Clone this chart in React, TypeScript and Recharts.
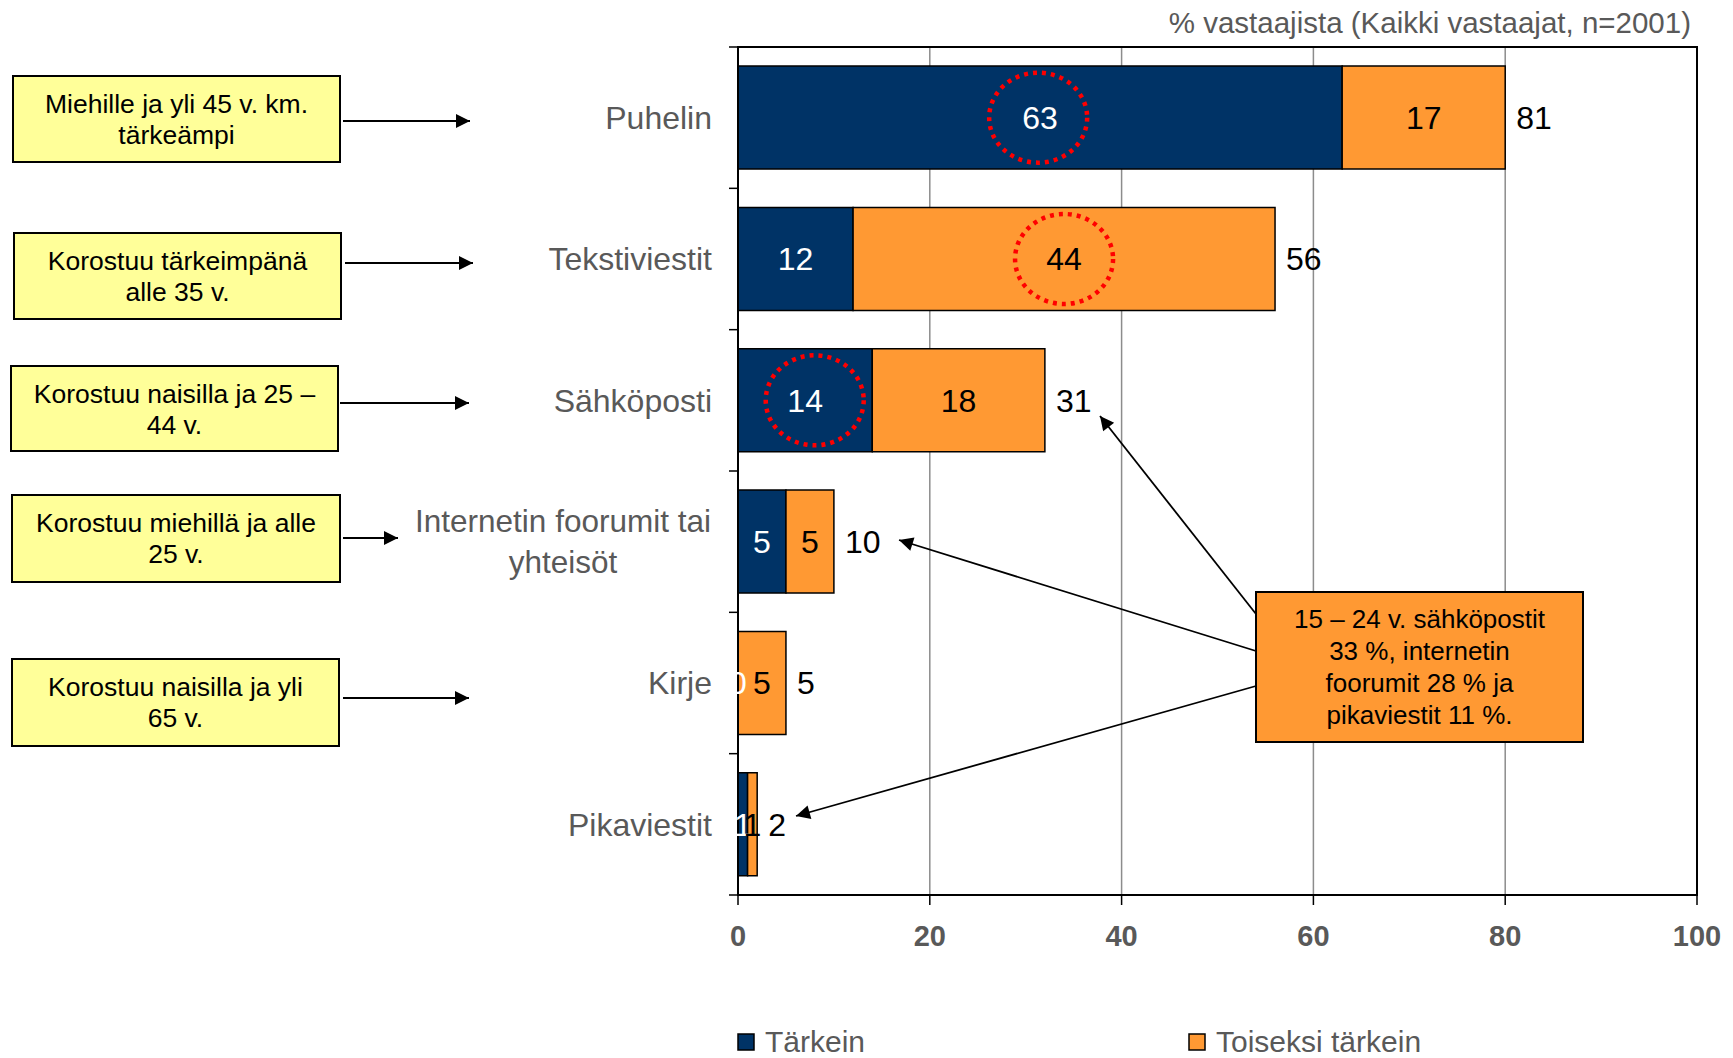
import React from 'react';
import {
  BarChart, Bar, XAxis, YAxis, CartesianGrid, LabelList, ReferenceDot, ReferenceArea,
} from 'recharts';

const categories = [
  'Puhelin',
  'Tekstiviestit',
  'Sähköposti',
  'Internetin foorumit tai\nyhteisöt',
  'Kirje',
  'Pikaviestit',
];
const tarkein = [63, 12, 14, 5, 0, 1];
const toiseksi = [17, 44, 18, 5, 5, 1];
const totals = [81, 56, 31, 10, 5, 2];
const xTicks = [0, 20, 40, 60, 80, 100];

// dotted circles drawn on the chart (category, x value)
const highlights = [
  { name: 'Puhelin', x: 31.3 },
  { name: 'Tekstiviestit', x: 34 },
  { name: 'Sähköposti', x: 8 },
];

const notes = [
  { lines: ['Miehille ja yli 45 v. km.', 'tärkeämpi'], box: [13, 76, 327, 86], arrow: [343, 470, 121] },
  { lines: ['Korostuu tärkeimpänä', 'alle 35 v.'], box: [14, 233, 327, 86], arrow: [345, 473, 263] },
  { lines: ['Korostuu naisilla ja 25 –', '44 v.'], box: [11, 366, 327, 85], arrow: [340, 469, 403] },
  { lines: ['Korostuu miehillä ja alle', '25 v.'], box: [12, 495, 328, 87], arrow: [343, 398, 538] },
  { lines: ['Korostuu naisilla ja yli', '65 v.'], box: [12, 659, 327, 87], arrow: [343, 469, 698] },
];

const calloutLines = ['15 – 24 v. sähköpostit', '33 %, internetin', 'foorumit 28 % ja', 'pikaviestit 11 %.'];

const data = categories.map((name, i) => ({
  name,
  tarkein: tarkein[i],
  toiseksi: toiseksi[i],
  total: totals[i],
}));

const BLUE = '#003366';
const ORANGE = '#FF9933';
const GRAY = '#595959';
const FONT = "'Liberation Sans', Arial, sans-serif";

const CategoryTick = (props: any) => {
  const { x, y, payload, index, visibleTicksCount } = props;
  const half = payload && payload.offset ? payload.offset : 70.6;
  const lines = String(payload.value).split('\n');
  return (
    <g>
      <line x1={x - 9} x2={x} y1={y - half} y2={y - half} stroke="#000" strokeWidth={1.5} />
      {index === visibleTicksCount - 1 && (
        <line x1={x - 9} x2={x} y1={y + half} y2={y + half} stroke="#000" strokeWidth={1.5} />
      )}
      {lines.length === 1 ? (
        <text x={x - 26} y={y} dy="0.35em" textAnchor="end" fill={GRAY} fontSize={32} fontFamily={FONT}>
          {lines[0]}
        </text>
      ) : (
        lines.map((l, i) => (
          <text key={i} x={x - 175} y={y + (i - (lines.length - 1) / 2) * 41} dy="0.35em"
            textAnchor="middle" fill={GRAY} fontSize={31.5} fontFamily={FONT}>
            {l}
          </text>
        ))
      )}
    </g>
  );
};

const ValueTick = (props: any) => {
  const { x, y, payload } = props;
  return (
    <text x={x} y={y + 41} textAnchor="middle" fill={GRAY} fontSize={29} fontWeight="bold"
      fontFamily="'Liberation Sans Narrow', 'Arial Narrow', 'Liberation Sans', sans-serif">
      {payload.value}
    </text>
  );
};

// zero-width blue segments still show their (white) value at the bar start
const ZeroLabel = (props: any) => {
  const { x, y, height, index } = props;
  if (tarkein[index] !== 0) return null;
  return (
    <text x={x} y={y + height / 2} dy="0.35em" textAnchor="middle" fill="#fff" fontSize={32} fontFamily={FONT}>
      {tarkein[index]}
    </text>
  );
};

const Ellipse = (props: any) => (
  <ellipse cx={props.cx} cy={props.cy} rx={49} ry={45} fill="none" stroke="#FF0000"
    strokeWidth={4.5} strokeDasharray="4 5" />
);

const Overlay = () => (
  <svg width={1733} height={1058} style={{ position: 'absolute', left: 0, top: 0, pointerEvents: 'none' }}>
    <defs>
      <marker id="head2" viewBox="0 0 10 10" refX="10" refY="5" markerWidth="20" markerHeight="14"
        markerUnits="userSpaceOnUse" orient="auto">
        <path d="M0,0 L10,5 L0,10 z" fill="#000" />
      </marker>
    </defs>

    <text x={1691} y={33} textAnchor="end" fill={GRAY} fontSize={29.5} fontFamily={FONT}>
      % vastaajista (Kaikki vastaajat, n=2001)
    </text>

    {notes.map((n, i) => {
      const [bx, by, bw, bh] = n.box;
      const [ax1, ax2, ay] = n.arrow;
      return (
        <g key={i}>
          <rect x={bx} y={by} width={bw} height={bh} fill="#FFFF99" stroke="#000" strokeWidth={2} />
          {n.lines.map((l, j) => (
            <text key={j} x={bx + bw / 2} y={by + 37 + j * 31} textAnchor="middle" fill="#000"
              fontSize={26.5} fontFamily={FONT}>
              {l}
            </text>
          ))}
          <line x1={ax1} y1={ay} x2={ax2} y2={ay} stroke="#000" strokeWidth={2} markerEnd="url(#head2)" />
        </g>
      );
    })}

    <line x1={1256} y1={614} x2={1100} y2={416} stroke="#000" strokeWidth={1.8} markerEnd="url(#head2)" />
    <line x1={1256} y1={651} x2={899} y2={540} stroke="#000" strokeWidth={1.8} markerEnd="url(#head2)" />
    <line x1={1256} y1={686} x2={796} y2={816} stroke="#000" strokeWidth={1.8} markerEnd="url(#head2)" />
    <rect x={1256} y={592} width={327} height={150} fill={ORANGE} stroke="#000" strokeWidth={2} />
    {calloutLines.map((l, j) => (
      <text key={j} x={1419.5} y={628 + j * 32} textAnchor="middle" fill="#000" fontSize={26} fontFamily={FONT}>
        {l}
      </text>
    ))}

    <rect x={738} y={1034} width={16} height={16} fill={BLUE} stroke="#000" strokeWidth={1.5} />
    <text x={765} y={1052} fill={GRAY} fontSize={30} fontFamily={FONT}>Tärkein</text>
    <rect x={1189} y={1034} width={16} height={16} fill={ORANGE} stroke="#000" strokeWidth={1.5} />
    <text x={1216} y={1052} fill={GRAY} fontSize={30} fontFamily={FONT}>Toiseksi tärkein</text>
  </svg>
);

const App: React.FC = () => {
  return (
    <div style={{ position: 'absolute', left: 0, top: 0, width: 1733, height: 1058, background: '#fff' }}>
      <BarChart
        width={1733}
        height={1058}
        data={data}
        layout="vertical"
        barCategoryGap="13.5%"
        margin={{ top: 47, right: 36, left: 0, bottom: 103 }}
      >
        <CartesianGrid horizontal={false} stroke="#8c8c8c" strokeWidth={1.5} />
        <ReferenceArea x1={0} x2={100} fill="none" fillOpacity={0} stroke="#000" strokeWidth={2} />
        <XAxis
          type="number"
          domain={[0, 100]}
          ticks={xTicks}
          height={60}
          tickSize={10}
          tickMargin={0}
          axisLine={{ stroke: '#000', strokeWidth: 2 }}
          tickLine={{ stroke: '#000', strokeWidth: 1.5 }}
          tick={<ValueTick />}
        />
        <YAxis
          type="category"
          dataKey="name"
          width={738}
          interval={0}
          tickSize={0}
          tickMargin={0}
          tickLine={false}
          axisLine={{ stroke: '#000', strokeWidth: 2 }}
          tick={<CategoryTick />}
        />
        <Bar dataKey="tarkein" stackId="a" fill={BLUE} stroke="#000" strokeWidth={1.5} isAnimationActive={false}>
          <LabelList dataKey="tarkein" position="center" fill="#fff" fontSize={32} fontFamily={FONT} />
        </Bar>
        <Bar dataKey="toiseksi" stackId="a" fill={ORANGE} stroke="#000" strokeWidth={1.5} isAnimationActive={false}>
          <LabelList dataKey="toiseksi" position="center" fill="#000" fontSize={32} fontFamily={FONT} />
          <LabelList dataKey="total" position="right" offset={11} fill="#000" fontSize={32} fontFamily={FONT} />
          <LabelList dataKey="tarkein" content={<ZeroLabel />} />
        </Bar>
        {highlights.map((h) => (
          <ReferenceDot key={h.name} x={h.x} y={h.name} r={47} shape={<Ellipse />} />
        ))}
      </BarChart>
      <Overlay />
    </div>
  );
};

export default App;
